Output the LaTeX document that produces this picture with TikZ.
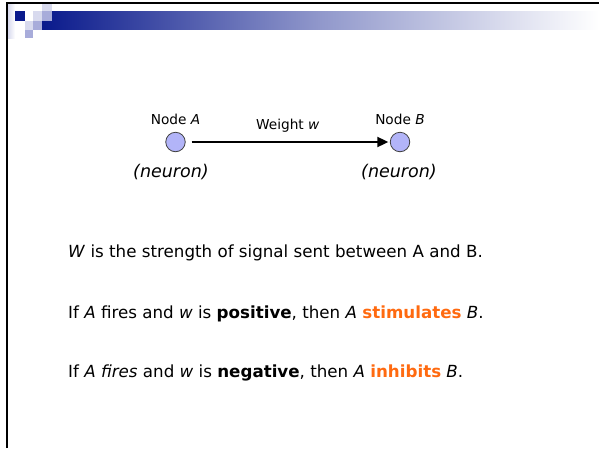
\documentclass[tikz,border=0pt]{standalone}
\usepackage{fontspec}
\setmainfont{DejaVu Sans}
\usepackage{xcolor}
\usetikzlibrary{arrows.meta, positioning}
\definecolor{slnavy}{HTML}{0A1A8C}
\definecolor{slmid}{HTML}{A8ACDA}
\definecolor{sllight}{HTML}{D8DAEE}
\definecolor{slnode}{HTML}{B2B4F8}
\definecolor{slorange}{HTML}{FF6A10}

\begin{document}
\begin{tikzpicture}[x=1pt, y=-1pt,
  neuron/.style={circle, draw=black!75, fill=slnode, line width=0.8pt, minimum size=19.5pt, inner sep=0pt},
  nlabel/.style={font=\fontsize{13.7}{15}\selectfont},
  ntag/.style={font=\fontsize{17.5}{20}\selectfont\itshape},
  bodyline/.style={anchor=base west, inner sep=0pt, font=\fontsize{16.7}{19}\selectfont},
]
  \useasboundingbox (0,0) rectangle (599,448);

  % Title bar
  \shade[left color=slnavy, right color=white, middle color=slnavy!45!white] (42,11) rectangle (599,29.5);
  \shade[left color=sllight, right color=white] (8,4) rectangle (15,38);
  \fill[slnavy] (15,11) rectangle (25,20.5);
  \fill[sllight] (42,4) rectangle (52,11);
  \fill[sllight] (33,11) rectangle (42,20.5);
  \fill[slmid] (42,11) rectangle (52,20.5);
  \fill[sllight] (25,20.5) rectangle (33,29.5);
  \fill[slmid] (33,20.5) rectangle (42,29.5);
  \fill[slmid] (25,29.5) rectangle (33,38);

  % Frame
  \draw[line width=1.6pt] (7,448) -- (7,3) -- (599,3);

  % Neurons
  \node[neuron] (nodeA) at (175.5,142) {};
  \node[neuron] (nodeB) at (400,142) {};
  \node[nlabel, above=3.5pt of nodeA] (labA) {Node \textit{A}};
  \node[nlabel, above=3.5pt of nodeB] (labB) {Node \textit{B}};
  \node[ntag] (tagA) at (171,172) {(neuron)};
  \node[ntag] (tagB) at (399,172) {(neuron)};

  % Connection
  \draw[-{Triangle[length=11pt, width=10pt]}, line width=1.8pt, shorten <=6pt, shorten >=1.5pt]
    (nodeA) -- node[nlabel, above=5pt] (wlab) {Weight \textit{w}} (nodeB);

  % Text
  \node[bodyline] (line1) at (68,257) {\textit{W} is the strength of signal sent between A and B.};
  \node[bodyline] (line2) at (68,318.5) {If \textit{A} fires and \textit{w} is \textbf{positive}, then \textit{A} \textbf{\textcolor{slorange}{stimulates}} \textit{B}.};
  \node[bodyline] (line3) at (68,377.5) {If \textit{A fires} and \textit{w} is \textbf{negative}, then \textit{A} \textbf{\textcolor{slorange}{inhibits}} \textit{B}.};
\end{tikzpicture}
\end{document}
